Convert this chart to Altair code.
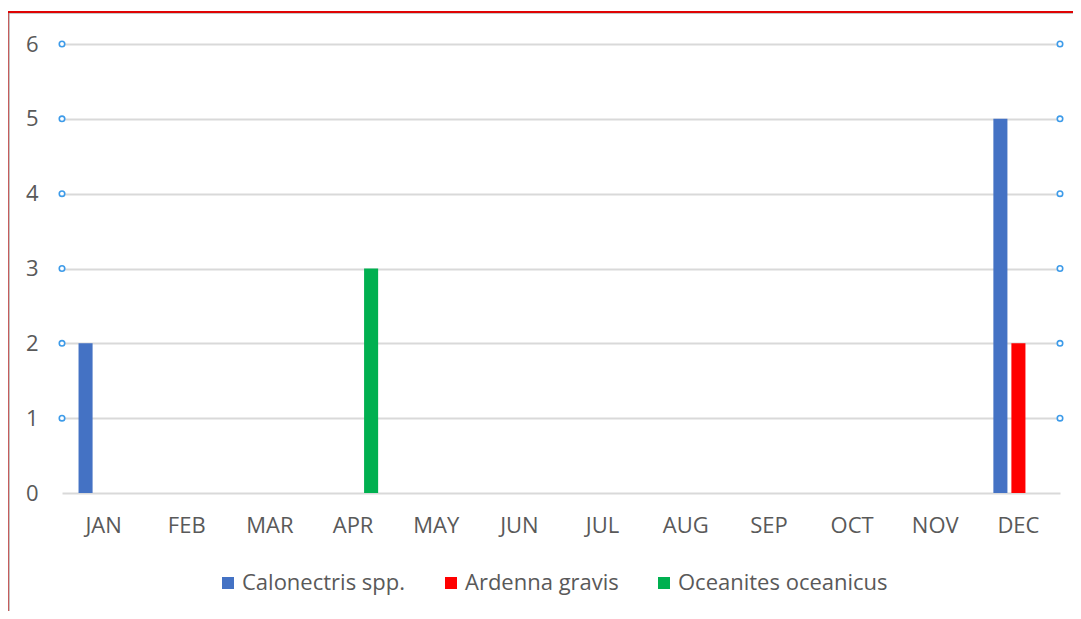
import altair as alt
import pandas as pd

months = ["JAN", "FEB", "MAR", "APR", "MAY", "JUN", "JUL", "AUG", "SEP", "OCT", "NOV", "DEC"]
series = ["Calonectris spp.", "Ardenna gravis", "Oceanites oceanicus"]
colors = ["#4472C4", "#FF0000", "#00B050"]
calonectris = [2, 0, 0, 0, 0, 0, 0, 0, 0, 0, 0, 5]
ardenna = [0, 0, 0, 0, 0, 0, 0, 0, 0, 0, 0, 2]
oceanites = [0, 0, 0, 3, 0, 0, 0, 0, 0, 0, 0, 0]
y_ticks = [0, 1, 2, 3, 4, 5, 6]
handle_ticks = [1, 2, 3, 4, 5, 6]

rows = []
for name, vals in zip(series, [calonectris, ardenna, oceanites]):
    for m, v in zip(months, vals):
        rows.append({"month": m, "species": name, "count": v})
df = pd.DataFrame(rows)
handles = pd.DataFrame({"v": handle_ticks})

FONT = "Open Sans"
W, H = 998, 449

yscale = alt.Scale(domain=[0, 6], nice=False)

bars = alt.Chart(df).mark_bar().encode(
    x=alt.X("month:N", sort=months,
            scale=alt.Scale(paddingInner=0.35, paddingOuter=0.175),
            axis=alt.Axis(title=None, labelAngle=0, ticks=False, domain=False,
                          labelFont=FONT, labelFontSize=22, labelColor="#595959",
                          labelPadding=22, grid=False)),
    xOffset=alt.XOffset("species:N", sort=series,
                        scale=alt.Scale(paddingInner=0.22, paddingOuter=0.11)),
    y=alt.Y("count:Q", scale=yscale,
            axis=alt.Axis(title=None, values=y_ticks, format="d", ticks=False, domain=False,
                          grid=True, gridColor="#D9D9D9", gridWidth=2.2,
                          labelFont=FONT, labelFontSize=22, labelColor="#595959",
                          labelPadding=24)),
    color=alt.Color("species:N", sort=series,
                    scale=alt.Scale(domain=series, range=colors),
                    legend=alt.Legend(title=None, orient="none", direction="horizontal",
                                      legendX=155, legendY=528, padding=0,
                                      symbolType="square", symbolSize=144,
                                      symbolStrokeWidth=0, labelOffset=3,
                                      columnPadding=34, labelFont=FONT, labelLimit=0,
                                      labelFontSize=22, labelColor="#595959")),
)

handle_style = dict(shape="circle", filled=False, fill="white", fillOpacity=1,
                    color="#3D9BE9", size=30, strokeWidth=1.6)
left_handles = alt.Chart(handles).mark_point(**handle_style).encode(
    x=alt.value(0), y=alt.Y("v:Q", scale=yscale))
right_handles = alt.Chart(handles).mark_point(**handle_style).encode(
    x=alt.value(W), y=alt.Y("v:Q", scale=yscale))

top_border = alt.Chart(handles).mark_rule(color="#E00000", strokeWidth=1.2).encode(
    x=alt.value(-54), x2=alt.value(1030), y=alt.value(-32))
top_border_shadow = alt.Chart(handles).mark_rule(color="#C8C8C8", strokeWidth=1).encode(
    x=alt.value(-53), x2=alt.value(1030), y=alt.value(-30.8))
left_border = alt.Chart(handles).mark_rule(color="#E00000", strokeWidth=1.2).encode(
    x=alt.value(-54.5), y=alt.value(-32), y2=alt.value(600))
left_border_shadow = alt.Chart(handles).mark_rule(color="#B0B0B0", strokeWidth=1).encode(
    x=alt.value(-53.3), y=alt.value(-31), y2=alt.value(600))

chart = alt.layer(bars, left_handles, right_handles, top_border_shadow, top_border,
                  left_border_shadow, left_border).properties(
    width=W, height=H,
    autosize=alt.AutoSizeParams(type="none"),
    padding={"left": 54, "top": 36, "right": 13, "bottom": 118},
).configure(background="white").configure_view(stroke=None)

chart.save("out.html", embed_options={"renderer": "svg", "actions": False})
